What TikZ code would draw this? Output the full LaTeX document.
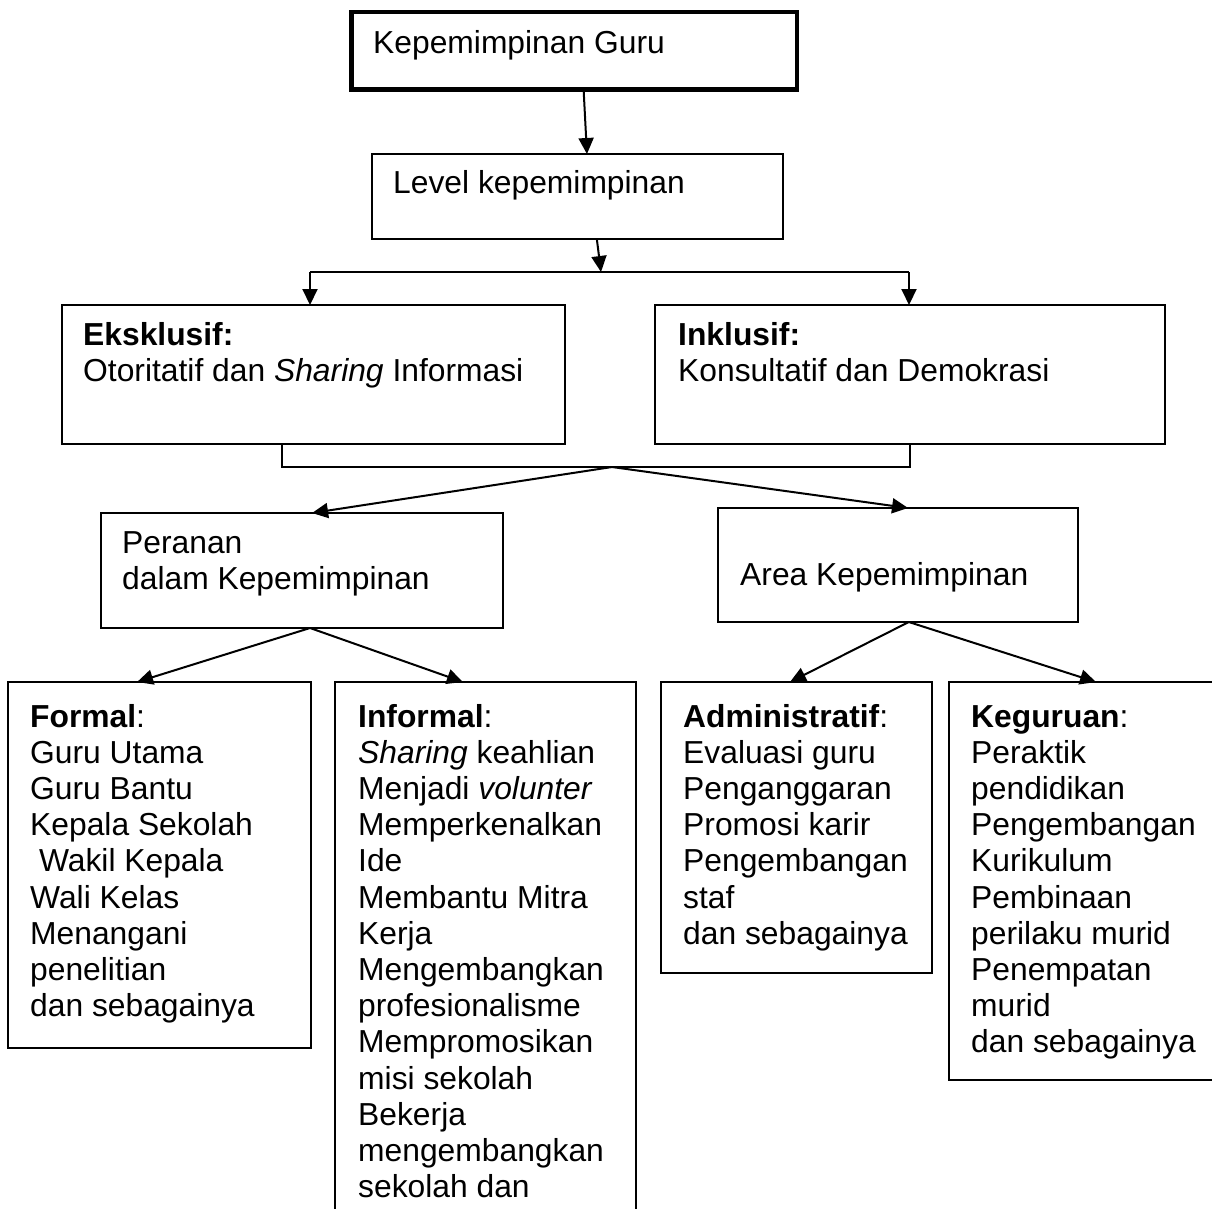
\documentclass[tikz,border=0pt]{standalone}
\usepackage{fontspec}
\setmainfont{Liberation Sans}
\usetikzlibrary{arrows.meta,calc}

\tikzset{
  box/.style={draw, line width=2pt, inner sep=0pt, outer sep=0pt, anchor=north west},
  txt/.style={anchor=base west, inner sep=0pt, font=\fontsize{31.8}{36.2}\selectfont},
  conn/.style={line width=2pt},
  arr/.style={line width=2pt, -{Triangle[length=16pt,width=15pt]}}
}

\begin{document}
\begin{tikzpicture}[x=1pt, y=-1pt]
  \useasboundingbox (0,0) rectangle (1212,1208);
  \clip (0,0) rectangle (1212,1208);

  % boxes
  \node[box, line width=4.5pt, minimum width=445.5pt, minimum height=77.5pt] (top) at (351.5,12) {};
  \node[box, minimum width=411pt, minimum height=85pt] (lvl) at (372,154) {};
  \node[box, minimum width=503pt, minimum height=139pt] (eks) at (62,305) {};
  \node[box, minimum width=510pt, minimum height=139pt] (inc) at (655,305) {};
  \node[box, minimum width=402pt, minimum height=115pt] (per) at (101,513) {};
  \node[box, minimum width=360pt, minimum height=114pt] (area) at (718,508) {};
  \node[box, minimum width=303pt, minimum height=366pt] (formal) at (8,682) {};
  \node[box, minimum width=301pt, minimum height=560pt] (informal) at (335,682) {};
  \node[box, minimum width=271pt, minimum height=291pt] (admin) at (661,682) {};
  \node[box, minimum width=300pt, minimum height=398pt] (kegu) at (949,682) {};

  % texts
  \node[txt] (t-top) at (373,53) {Kepemimpinan Guru};
  \node[txt] (t-lvl) at (393,193) {Level kepemimpinan};
  \node[txt] (t-eks) at (83,345) {\vtop{\hbox{\textbf{Eksklusif:}}\hbox{Otoritatif dan \textit{Sharing} Informasi}}};
  \node[txt] (t-inc) at (678,345) {\vtop{\hbox{\textbf{Inklusif:}}\hbox{Konsultatif dan Demokrasi}}};
  \node[txt] (t-per) at (122,553) {\vtop{\hbox{Peranan}\hbox{dalam Kepemimpinan}}};
  \node[txt] (t-area) at (740,585) {Area Kepemimpinan};
  \node[txt] (t-formal) at (30,727) {\vtop{%
    \hbox{\textbf{Formal}:}
    \hbox{Guru Utama}
    \hbox{Guru Bantu}
    \hbox{Kepala Sekolah}
    \hbox{\ Wakil Kepala}
    \hbox{Wali Kelas}
    \hbox{Menangani}
    \hbox{penelitian}
    \hbox{dan sebagainya}}};
  \node[txt] (t-informal) at (358,727) {\vtop{%
    \hbox{\textbf{Informal}:}
    \hbox{\textit{Sharing} keahlian}
    \hbox{Menjadi \textit{volunter}}
    \hbox{Memperkenalkan}
    \hbox{Ide}
    \hbox{Membantu Mitra}
    \hbox{Kerja}
    \hbox{Mengembangkan}
    \hbox{profesionalisme}
    \hbox{Mempromosikan}
    \hbox{misi sekolah}
    \hbox{Bekerja}
    \hbox{mengembangkan}
    \hbox{sekolah dan}}};
  \node[txt] (t-admin) at (683,727) {\vtop{%
    \hbox{\textbf{Administratif}:}
    \hbox{Evaluasi guru}
    \hbox{Penganggaran}
    \hbox{Promosi karir}
    \hbox{Pengembangan}
    \hbox{staf}
    \hbox{dan sebagainya}}};
  \node[txt] (t-kegu) at (971,727) {\vtop{%
    \hbox{\textbf{Keguruan}:}
    \hbox{Peraktik}
    \hbox{pendidikan}
    \hbox{Pengembangan}
    \hbox{Kurikulum}
    \hbox{Pembinaan}
    \hbox{perilaku murid}
    \hbox{Penempatan}
    \hbox{murid}
    \hbox{dan sebagainya}}};

  % connectors
  \coordinate (barL) at (310,272);
  \coordinate (barR) at (909,272);
  \coordinate (drop) at (601,272);
  \coordinate (fork) at (612,467);

  \draw[arr] ($(top.south west)!0.521!(top.south east)$) -- ($(lvl.north west)!0.523!(lvl.north east)$);
  \draw[conn] (barL) -- (barR);
  \draw[arr] ($(lvl.south west)!0.547!(lvl.south east)$) -- (drop);
  \draw[arr] (barL) -- (barL |- eks.north);
  \draw[arr] (barR) -- (barR |- inc.north);

  \draw[conn] ($(eks.south west)!0.437!(eks.south east)$) |- (fork) -| (inc.south);
  \draw[arr] (fork) -- ($(per.north west)!0.525!(per.north east)$);
  \draw[arr] (fork) -- ($(area.north west)!0.528!(area.north east)$);

  \draw[arr] ($(per.south west)!0.52!(per.south east)$) -- ($(formal.north west)!0.426!(formal.north east)$);
  \draw[arr] ($(per.south west)!0.52!(per.south east)$) -- ($(informal.north west)!0.425!(informal.north east)$);
  \draw[arr] ($(area.south west)!0.53!(area.south east)$) -- ($(admin.north west)!0.476!(admin.north east)$);
  \draw[arr] ($(area.south west)!0.53!(area.south east)$) -- ($(kegu.north west)!0.49!(kegu.north east)$);
\end{tikzpicture}
\end{document}
